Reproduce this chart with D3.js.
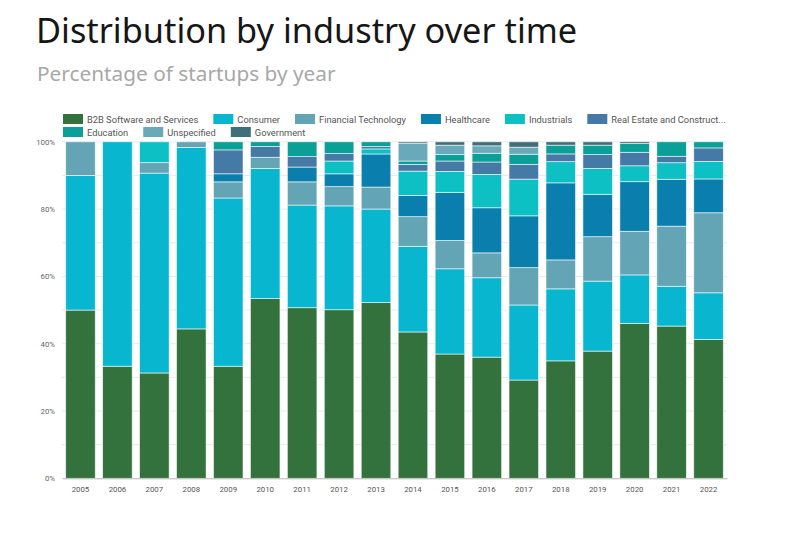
<!DOCTYPE html>
<html>
<head>
<meta charset="utf-8">
<script src="https://cdn.jsdelivr.net/npm/d3@7"></script>
<style>
  body { margin: 0; background: #fff; }
  svg { display: block; }
</style>
</head>
<body>
<div id="chart"></div>
<script>
// Years on the x axis
const years = [2005, 2006, 2007, 2008, 2009, 2010, 2011, 2012, 2013,
  2014, 2015, 2016, 2017, 2018, 2019, 2020, 2021, 2022];

// Share of startups per industry (percent)
const b2b = [50, 33.3, 31.3, 44.4, 33.3, 53.4, 50.7, 50.0, 52.0, 43.4, 36.9, 36.0, 29.2, 34.9, 37.8, 45.8, 45.1, 41.1];
const consumer = [40, 66.7, 59.4, 53.9, 50.0, 38.7, 30.5, 30.8, 27.7, 25.4, 25.3, 23.6, 22.3, 21.4, 20.8, 14.4, 11.8, 13.8];
const fintech = [10, 0, 3.1, 1.7, 4.8, 3.3, 6.9, 5.7, 6.5, 8.8, 8.4, 7.4, 11.1, 8.6, 13.2, 12.9, 17.8, 23.7];
const healthcare = [0, 0, 0, 0, 2.4, 0, 4.4, 3.8, 9.8, 6.3, 14.3, 13.4, 15.4, 22.9, 12.6, 14.7, 13.9, 10.0];
const industrials = [0, 0, 6.2, 0, 0, 0, 0, 3.8, 1.5, 7.2, 6.2, 9.9, 10.9, 6.3, 7.7, 4.7, 4.9, 5.2];
const realEstate = [0, 0, 0, 0, 7.1, 3.2, 3.1, 2.2, 0.7, 2.0, 3.1, 3.7, 4.4, 2.3, 4.1, 4.0, 1.9, 4.0];
const education = [0, 0, 0, 0, 2.4, 1.4, 4.4, 3.5, 1.4, 1.0, 1.9, 2.6, 3.0, 2.6, 2.8, 2.6, 4.3, 1.8];
const unspecified = [0, 0, 0, 0, 0, 0, 0, 0, 0, 5.3, 2.8, 2.2, 2.1, 0, 0, 0, 0, 0];
const government = [0, 0, 0, 0, 0, 0, 0, 0, 0, 0.4, 1.0, 1.2, 1.6, 1.0, 1.0, 0.5, 0, 0];

// Series names in stack order (bottom to top), with their values
const seriesNames = ["B2B Software and Services", "Consumer", "Financial Technology",
  "Healthcare", "Industrials", "Real Estate and Construct...", "Education",
  "Unspecified", "Government"];
const seriesValues = [b2b, consumer, fintech, healthcare, industrials,
  realEstate, education, unspecified, government];

const yTicks = [0, 0.2, 0.4, 0.6, 0.8, 1];

const colors = ["#33723c", "#08b7cf", "#64a5b5", "#0a7fae", "#0dc0c3",
  "#4579a6", "#0a9f97", "#6aa9ba", "#3f6f78"];

const WIDTH = 795;
const HEIGHT = 539;
const margin = { top: 141.8, right: 68, bottom: 60.7, left: 62 };

const svg = d3.select("#chart")
  .append("svg")
  .attr("width", WIDTH)
  .attr("height", HEIGHT);

// Title and subtitle
svg.append("text")
  .attr("x", 36)
  .attr("y", 43)
  .attr("font-family", "Noto Sans, sans-serif")
  .attr("font-size", 34.3)
  .attr("fill", "#161616")
  .text("Distribution by industry over time");

svg.append("text")
  .attr("x", 37)
  .attr("y", 81)
  .attr("font-family", "Noto Sans, sans-serif")
  .attr("font-size", 20.8)
  .attr("fill", "#a8a8a8")
  .text("Percentage of startups by year");

// Build table rows for d3.stack
const rows = years.map((year, i) => {
  const row = { year };
  seriesNames.forEach((name, j) => { row[name] = seriesValues[j][i]; });
  return row;
});

const stack = d3.stack()
  .keys(seriesNames)
  .offset(d3.stackOffsetExpand);
const stacked = stack(rows);

const x = d3.scaleBand()
  .domain(years)
  .range([margin.left, WIDTH - margin.right])
  .paddingInner(0.2)
  .paddingOuter(0.1);

const y = d3.scaleLinear()
  .domain([0, 1])
  .range([HEIGHT - margin.bottom, margin.top]);

// Gridlines every 10%
svg.append("g")
  .selectAll("line")
  .data(d3.range(1, 11).map((d) => d / 10))
  .join("line")
  .attr("x1", margin.left)
  .attr("x2", WIDTH - margin.right)
  .attr("y1", (d) => y(d))
  .attr("y2", (d) => y(d))
  .attr("stroke", "#e9e9e9")
  .attr("stroke-width", 1);

// Bars
svg.append("g")
  .selectAll("g")
  .data(stacked)
  .join("g")
  .attr("fill", (d, i) => colors[i])
  .selectAll("rect")
  .data((d) => d)
  .join("rect")
  .attr("x", (d) => x(d.data.year))
  .attr("y", (d) => y(d[1]))
  .attr("width", x.bandwidth())
  .attr("height", (d) => Math.max(0, y(d[0]) - y(d[1])))
  .attr("stroke", "#ffffff")
  .attr("stroke-opacity", 0.7)
  .attr("stroke-width", (d) => (d[1] - d[0] > 0 ? 0.8 : 0));

// Y axis
const yAxis = svg.append("g")
  .attr("transform", `translate(${margin.left},0)`)
  .call(d3.axisLeft(y).tickValues(yTicks).tickFormat(d3.format(".0%")).tickSize(0).tickPadding(7));
yAxis.select(".domain").remove();
yAxis.selectAll("text")
  .attr("font-family", "Roboto, sans-serif")
  .attr("font-size", 7.8)
  .attr("fill", "#666");

// X axis
const xAxis = svg.append("g")
  .attr("transform", `translate(0,${HEIGHT - margin.bottom})`)
  .call(d3.axisBottom(x).tickSize(0).tickPadding(8));
xAxis.select(".domain")
  .attr("stroke", "#b5b5b5");
xAxis.selectAll("text")
  .attr("font-family", "Roboto, sans-serif")
  .attr("font-size", 7.8)
  .attr("fill", "#555");

// Legend (two rows)
const legendRows = [
  [0, 1, 2, 3, 4, 5],
  [6, 7, 8],
];
const legendY = [119, 132];
const swatchW = 20;
const swatchH = 10;

legendRows.forEach((row, r) => {
  let lx = 63;
  row.forEach((idx) => {
    const item = svg.append("g").attr("transform", `translate(${lx},${legendY[r]})`);
    item.append("rect")
      .attr("x", 0)
      .attr("y", -swatchH / 2)
      .attr("width", swatchW)
      .attr("height", swatchH)
      .attr("fill", colors[idx]);
    const label = item.append("text")
      .attr("x", swatchW + 4)
      .attr("y", 3.5)
      .attr("font-family", "Roboto, sans-serif")
      .attr("font-size", 9.3)
      .attr("fill", "#555")
      .text(seriesNames[idx]);
    lx += swatchW + 4 + label.node().getComputedTextLength() + 15;
  });
});
</script>
</body>
</html>
